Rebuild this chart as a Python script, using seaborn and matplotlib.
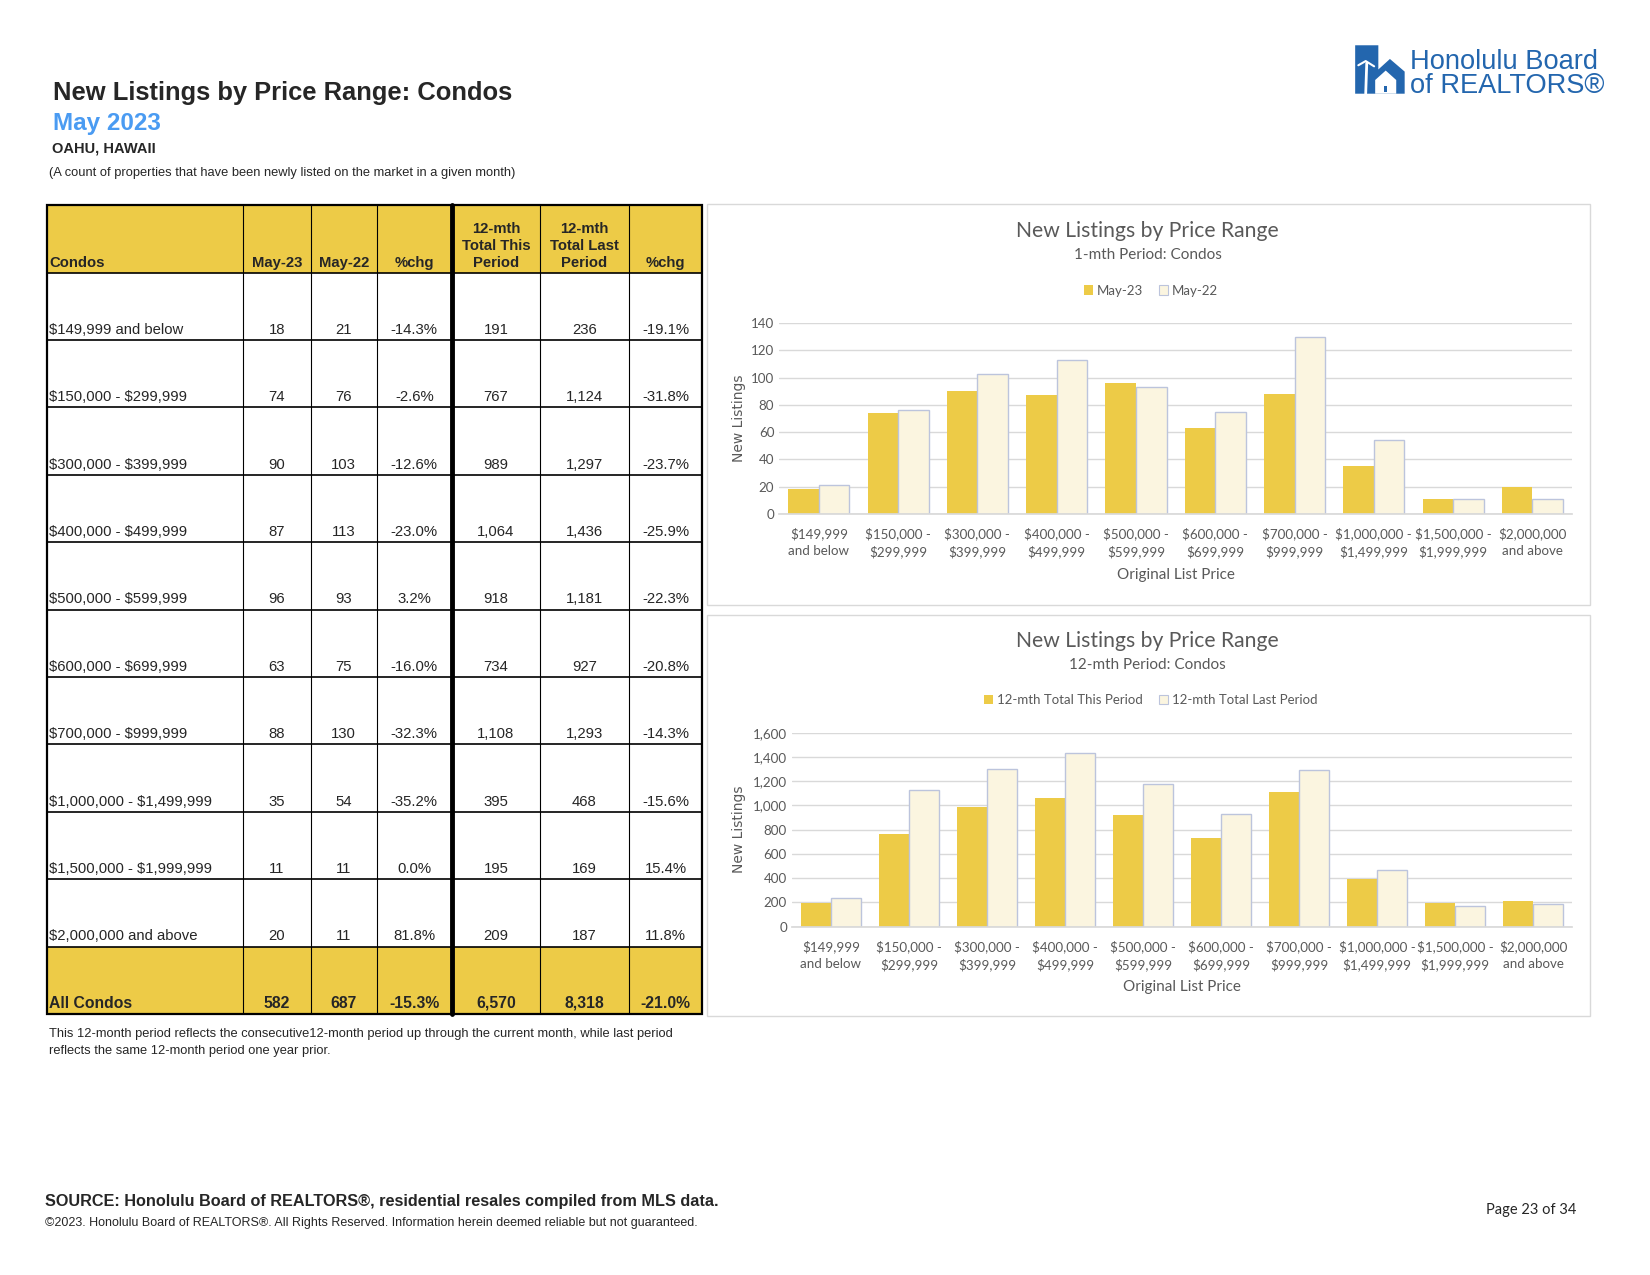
import numpy as np
import pandas as pd
import matplotlib
matplotlib.use("Agg")
import matplotlib.pyplot as plt
from matplotlib.patches import Rectangle, Polygon, Patch
from matplotlib.ticker import FuncFormatter
import seaborn as sns

# data
price_ranges = ["$149,999 and below", "$150,000 - $299,999", "$300,000 - $399,999",
                "$400,000 - $499,999", "$500,000 - $599,999", "$600,000 - $699,999",
                "$700,000 - $999,999", "$1,000,000 - $1,499,999", "$1,500,000 - $1,999,999",
                "$2,000,000 and above"]
may_23 = [18, 74, 90, 87, 96, 63, 88, 35, 11, 20]
may_22 = [21, 76, 103, 113, 93, 75, 130, 54, 11, 11]
pct_month = [-14.3, -2.6, -12.6, -23.0, 3.2, -16.0, -32.3, -35.2, 0.0, 81.8]
total_this = [191, 767, 989, 1064, 918, 734, 1108, 395, 195, 209]
total_last = [236, 1124, 1297, 1436, 1181, 927, 1293, 468, 169, 187]
pct_12mth = [-19.1, -31.8, -23.7, -25.9, -22.3, -20.8, -14.3, -15.6, 15.4, 11.8]
all_row = ["All Condos", "582", "687", "-15.3%", "6,570", "8,318", "-21.0%"]
header = ["Condos", "May-23", "May-22", "%chg", "12-mth\nTotal This\nPeriod",
          "12-mth\nTotal Last\nPeriod", "%chg"]

GOLD = "#EDCB47"
CREAM = "#FBF5E0"
EDGE = "#BCC4DC"
GREY = "#595959"
BLUE = "#4A9BF2"
LOGO = "#2366AE"

sns.set_theme(style="white")
plt.rcParams["font.family"] = ["Liberation Sans", "DejaVu Sans"]
plt.rcParams["text.parse_math"] = False  # dollar signs are plain text here

# page is laid out in a 1567 x 1211 grid (the size it was read at)
W, H = 1567, 1211
fig = plt.figure(figsize=(16.5, 12.75), dpi=100)
page = fig.add_axes([0, 0, 1, 1])
page.set_xlim(0, W)
page.set_ylim(H, 0)
page.axis("off")

# headings
page.text(50, 95, "New Listings by Price Range: Condos", fontsize=18.4, fontweight="bold", va="baseline")
page.text(50, 123, "May 2023", fontsize=17.5, fontweight="bold", color=BLUE, va="baseline")
page.text(49, 145, "OAHU, HAWAII", fontsize=10.5, fontweight="bold", va="baseline")
page.text(47, 167, "(A count of properties that have been newly listed on the market in a given month)",
          fontsize=9.3, va="baseline")

# logo
page.add_patch(Polygon([(1287, 43), (1309, 43), (1309, 66), (1320, 56), (1334, 68),
                        (1334, 89), (1287, 89)], closed=True, color=LOGO, lw=0))
page.add_patch(Polygon([(1306, 89), (1306, 76), (1316, 67), (1326, 76), (1326, 89)],
                       closed=True, color="white", lw=0))
page.add_patch(Rectangle((1314, 82), 3, 5, color=LOGO, lw=0))
page.plot([1297, 1298], [89, 60], color="white", lw=2)
page.plot([1290, 1297, 1305], [62, 58, 63], color="white", lw=1.5)
page.text(1339, 66, "Honolulu Board", fontsize=19.6, color=LOGO, va="baseline")
page.text(1339, 88, "of REALTORS\u00ae", fontsize=19.6, color=LOGO, va="baseline")

# table
col_x = [45, 231, 295, 358, 429, 513, 597, 667]
head_top, head_bot, row_h = 195, 259, 64
n = len(price_ranges)
tab_bot = head_bot + row_h * (n + 1)
page.add_patch(Rectangle((45, head_top), 622, head_bot - head_top, color=GOLD, lw=0))
page.add_patch(Rectangle((45, tab_bot - row_h), 622, row_h, color=GOLD, lw=0))
for x in col_x[1:-1]:
    page.plot([x, x], [head_top, tab_bot], color="black", lw=0.8)
for i in range(n + 1):
    y = head_bot + row_h * i
    page.plot([45, 667], [y, y], color="black", lw=1.2)
page.plot([429, 429], [head_top, tab_bot], color="black", lw=3.5)
page.add_patch(Rectangle((45, head_top), 622, tab_bot - head_top, fill=False, ec="black", lw=1.6))

def cell_text(col, y, s, bold=False, size=10.7):
    if col == 0:
        page.text(col_x[0] + 2, y, s, fontsize=size, fontweight="bold" if bold else "normal",
                  ha="left", va="bottom")
    else:
        cx = (col_x[col] + col_x[col + 1]) / 2
        page.text(cx, y, s, fontsize=size, fontweight="bold" if bold else "normal",
                  ha="center", va="bottom", multialignment="center", linespacing=1.25)

for c, s in enumerate(header):
    cell_text(c, head_bot - 3, s, bold=True)
for i in range(n):
    yb = head_bot + row_h * (i + 1) - 3
    vals = [price_ranges[i], f"{may_23[i]:,}", f"{may_22[i]:,}", f"{pct_month[i]:.1f}%",
            f"{total_this[i]:,}", f"{total_last[i]:,}", f"{pct_12mth[i]:.1f}%"]
    for c, s in enumerate(vals):
        cell_text(c, yb, s)
for c, s in enumerate(all_row):
    cell_text(c, tab_bot - 3, s, bold=True, size=11.3)

page.text(47, 985, "This 12-month period reflects the consecutive12-month period up through the current month, while last period",
          fontsize=9.3, va="baseline")
page.text(47, 1001, "reflects the same 12-month period one year prior.", fontsize=9.3, va="baseline")

# footer
page.text(43, 1145, "SOURCE: Honolulu Board of REALTORS\u00ae, residential resales compiled from MLS data.",
          fontsize=11.7, fontweight="bold", va="baseline")
page.text(43, 1164, "\u00a92023. Honolulu Board of REALTORS\u00ae. All Rights Reserved. Information herein deemed reliable but not guaranteed.",
          fontsize=9.0, va="baseline")
page.text(1497, 1153, "Page 23 of 34", fontsize=10.5, family="Lato", ha="right", va="baseline")

# chart frames
for top in (194, 584):
    page.add_patch(Rectangle((671, top), 839, 381, fill=False, ec="#D9D9D9", lw=1))

chart_labels = [p.replace(" - ", " -\n").replace(" and ", "\nand ") for p in price_ranges]


def fx(x):
    return x / W


def fy(y):
    return 1 - y / H


def draw_chart(box, names, a, b, ymax, step, subtitle, title_y, legend_y, ylab_x, xlab_y, comma):
    x0, y0, x1, y1 = box
    ax = fig.add_axes([fx(x0), fy(y1), fx(x1) - fx(x0), fy(y0) - fy(y1)])
    df = pd.DataFrame({"range": chart_labels * 2,
                       "period": [names[0]] * n + [names[1]] * n,
                       "count": a + b})
    sns.barplot(data=df, x="range", y="count", hue="period", palette=[GOLD, CREAM],
                saturation=1, width=0.77, ax=ax, legend=False)
    for bar in ax.containers[1]:
        bar.set_edgecolor(EDGE)
        bar.set_linewidth(1)
    for bar in ax.containers[0]:
        bar.set_linewidth(0)
    ax.set_ylim(0, ymax)
    ax.set_yticks(np.arange(0, ymax + 1, step))
    if comma:
        ax.yaxis.set_major_formatter(FuncFormatter(lambda v, p: f"{int(v):,}"))
    ax.set_xlim(-0.5, n - 0.5)
    ax.grid(axis="y", color="#D9D9D9", lw=1)
    ax.set_axisbelow(True)
    for s in ("top", "right", "left"):
        ax.spines[s].set_visible(False)
    ax.spines["bottom"].set_color("#D9D9D9")
    ax.tick_params(axis="both", length=0, colors=GREY, labelsize=9.6)
    for t in ax.get_xticklabels() + ax.get_yticklabels():
        t.set_family("Lato")
    for t in ax.get_xticklabels():
        t.set_linespacing(1.45)
    ax.tick_params(axis="x", pad=10)
    ax.set_xlabel("Original List Price", fontsize=11, color=GREY, family="Lato")
    ax.xaxis.set_label_coords(0.5, (y1 - xlab_y) / (y1 - y0), transform=ax.transAxes)
    ax.xaxis.label.set_va("center")
    ax.set_ylabel("New Listings", fontsize=10, color=GREY, family="DejaVu Sans")
    ax.yaxis.set_label_coords((ylab_x - x0) / (x1 - x0), 0.5)
    ax.yaxis.label.set_va("center")
    page.text(1090, title_y, "New Listings by Price Range", fontsize=15.2, color=GREY,
              family="Lato", ha="center", va="center")
    page.text(1090, title_y + 23, subtitle, fontsize=11, color=GREY, family="Lato",
              ha="center", va="center")
    handles = [Patch(fc=GOLD, ec="none", label=names[0]), Patch(fc=CREAM, ec=EDGE, lw=0.8, label=names[1])]
    leg = ax.legend(handles=handles, loc="center", ncol=2, frameon=False,
                    bbox_to_anchor=(fx(1093), fy(legend_y)), bbox_transform=fig.transFigure,
                    handlelength=0.7, handleheight=0.7, handletextpad=0.3, columnspacing=1.2,
                    prop={"family": "Lato", "size": 9.5})
    for t in leg.get_texts():
        t.set_color(GREY)
    return ax


draw_chart((740, 307, 1493, 488), ["May-23", "May-22"], may_23, may_22, 140, 20,
           "1-mth Period: Condos", 219, 276, 702, 546, False)
draw_chart((752, 696, 1493, 880), ["12-mth Total This Period", "12-mth Total Last Period"],
           total_this, total_last, 1600, 200, "12-mth Period: Condos", 609, 665, 702, 937, True)

fig.savefig("out.png", dpi=100)
